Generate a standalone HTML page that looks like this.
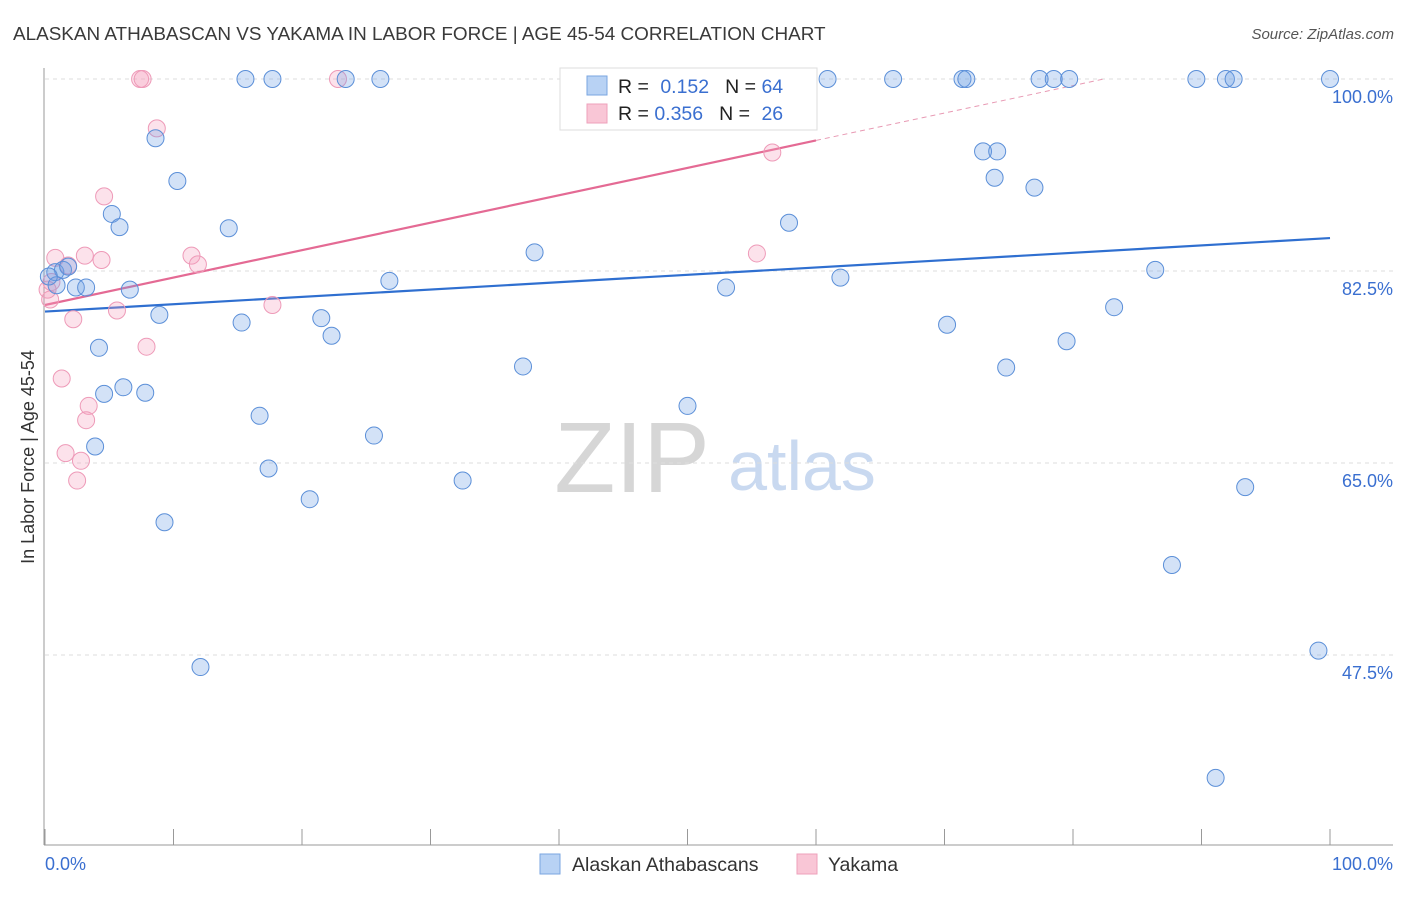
<!DOCTYPE html>
<html><head><meta charset="utf-8"><style>
body{margin:0;background:#fff;font-family:"Liberation Sans",sans-serif;}
svg text{font-family:"Liberation Sans",sans-serif;}
</style></head><body>
<svg id="chart" width="1406" height="892" viewBox="0 0 1406 892" xmlns="http://www.w3.org/2000/svg">
<text x="13" y="40" font-size="18.9" fill="#3a3a3a">ALASKAN ATHABASCAN VS YAKAMA IN LABOR FORCE | AGE 45-54 CORRELATION CHART</text>
<text x="1394" y="39" font-size="15" fill="#555" text-anchor="end" font-style="italic">Source: ZipAtlas.com</text>
<g>
<text x="632" y="492" font-size="100" fill="#d6d6d6" text-anchor="middle" font-family="Liberation Serif,serif">ZIP</text>
<text x="802" y="490" font-size="70" fill="#c9d9f0" text-anchor="middle">atlas</text>
</g>
<g id="grid"></g>
<g id="axes"></g>
<g id="trends"></g>
<g id="points"></g>
<text transform="translate(34,457) rotate(-90)" font-size="18" fill="#333" text-anchor="middle">In Labor Force | Age 45-54</text>
<g>
<rect x="560" y="68" width="257" height="62" fill="#fff" stroke="#ddd"/>
<rect x="587" y="76" width="20" height="19" fill="#b8d2f4" stroke="#7aa6e0"/>
<rect x="587" y="104" width="20" height="19" fill="#f9c6d6" stroke="#eea0bb"/>
<text x="618" y="93" font-size="19.5" fill="#222">R = <tspan fill="#3a6fd0" dx="6">0.152</tspan><tspan dx="16" fill="#222">N = </tspan><tspan fill="#3a6fd0">64</tspan></text>
<text x="618" y="120" font-size="19.5" fill="#222">R = <tspan fill="#3a6fd0">0.356</tspan><tspan dx="16" fill="#222">N = </tspan><tspan fill="#3a6fd0" dx="6">26</tspan></text>
</g>
<g>
<rect x="540" y="854" width="20" height="20" fill="#b8d2f4" stroke="#7aa6e0"/>
<text x="572" y="871" font-size="19.5" fill="#333">Alaskan Athabascans</text>
<rect x="797" y="854" width="20" height="20" fill="#f9c6d6" stroke="#eea0bb"/>
<text x="828" y="871" font-size="19.5" fill="#333">Yakama</text>
</g>
</svg>
<script>
const blueX=[15.6,17.7,23.4,26.1,60.9,66.0,71.4,71.7,77.4,78.5,79.7,89.6,91.9,92.5,100,8.6,10.3,5.2,5.8,14.3,57.9,73.0,74.1,73.9,77.0,38.1,86.4,0.8,1.4,1.8,2.4,3.2,6.6,26.8,53.0,61.9,8.9,15.3,21.5,22.3,70.2,83.2,79.5,4.2,37.2,74.8,6.1,4.6,7.8,50.0,16.7,25.6,3.9,17.4,32.5,20.6,93.4,9.3,87.7,99.1,12.1,91.1,0.9,0.3];
const blueY=[100,100,100,100,100,100,100,100,100,100,100,100,100,100,100,94.6,90.7,87.7,86.5,86.4,86.9,93.4,93.4,91.0,90.1,84.2,82.6,82.4,82.6,82.9,81.0,81.0,80.8,81.6,81.0,81.9,78.5,77.8,78.2,76.6,77.6,79.2,76.1,75.5,73.8,73.7,71.9,71.3,71.4,70.2,69.3,67.5,66.5,64.5,63.4,61.7,62.8,59.6,55.7,47.9,46.4,36.3,81.2,82.0];
const pinkX=[7.4,7.6,22.8,8.7,56.6,4.6,0.8,3.1,4.4,1.8,11.4,11.9,55.4,0.5,0.4,5.6,2.2,17.7,7.9,1.3,3.4,3.2,1.6,2.8,2.5,0.2];
const pinkY=[100,100,100,95.5,93.3,89.3,83.7,83.9,83.5,83.0,83.9,83.1,84.1,81.5,79.9,78.9,78.1,79.4,75.6,72.7,70.2,68.9,65.9,65.2,63.4,80.8];
const blueTrend=[78.8,85.5];
const pinkTrend=[79.4,104.4];
const yTicks=[100,82.5,65,47.5];
const yTickLabels=["100.0%","82.5%","65.0%","47.5%"];
const xTickVals=[0,10,20,30,40,50,60,70,80,90,100];
const NS="http://www.w3.org/2000/svg";
const sx=v=>45+v*12.85;
const sy=v=>79+(100-v)*10.971;
function mk(tag,attrs,parent){const e=document.createElementNS(NS,tag);for(const k in attrs)e.setAttribute(k,attrs[k]);parent.appendChild(e);return e;}
const grid=document.getElementById('grid'),axes=document.getElementById('axes'),tr=document.getElementById('trends'),pts=document.getElementById('points');
yTicks.forEach((t,i)=>{
 const l=mk('line',{x1:45,x2:1393,y1:sy(t),y2:sy(t),stroke:'#ddd','stroke-dasharray':'4,4'},grid);
 
 
 const tx=mk('text',{x:1393,y:sy(t)+24,'font-size':18,fill:'#3a6fd0','text-anchor':'end'},axes);
 tx.textContent=yTickLabels[i];
 
 
});
const ya=mk('line',{x1:44,x2:44,y1:68,y2:845,stroke:'#999'},axes);


const xa=mk('line',{x1:44,x2:1393,y1:845,y2:845,stroke:'#999'},axes);


xTickVals.forEach(v=>{
 const t=mk('line',{x1:sx(v),x2:sx(v),y1:829,y2:845,stroke:'#999'},axes);
 
 
});
const xl0=mk('text',{x:45,y:870,'font-size':18,fill:'#3a6fd0'},axes);xl0.textContent='0.0%';


const xl1=mk('text',{x:1393,y:870,'font-size':18,fill:'#3a6fd0','text-anchor':'end'},axes);xl1.textContent='100.0%';


function drawPts(X,Y,fill,stroke,name){X.forEach((x,i)=>{
 const c=mk('circle',{cx:sx(x),cy:sy(Y[i]),r:8.5,fill:fill,stroke:stroke,'stroke-width':1},pts);
 
 
});}
drawPts(pinkX,pinkY,'rgba(244,160,190,0.3)','#ee9ab8','point-yakama');
drawPts(blueX,blueY,'rgba(110,160,230,0.3)','#5b8fd8','point-athabascan');
const bl=mk('line',{x1:sx(0),y1:sy(blueTrend[0]),x2:sx(100),y2:sy(blueTrend[1]),stroke:'#2f6fd0','stroke-width':2.2},tr);


const pv=x=>pinkTrend[0]+(pinkTrend[1]-pinkTrend[0])*x/100;
const pl=mk('line',{x1:sx(0),y1:sy(pv(0)),x2:sx(60),y2:sy(pv(60)),stroke:'#e46a94','stroke-width':2.2},tr);


const xe=(100-pinkTrend[0])/(pinkTrend[1]-pinkTrend[0])*100;
const pd=mk('line',{x1:sx(60),y1:sy(pv(60)),x2:sx(xe),y2:sy(100),stroke:'#e89ab4','stroke-width':1,'stroke-dasharray':'5,4'},tr);


</script>
</body></html>
